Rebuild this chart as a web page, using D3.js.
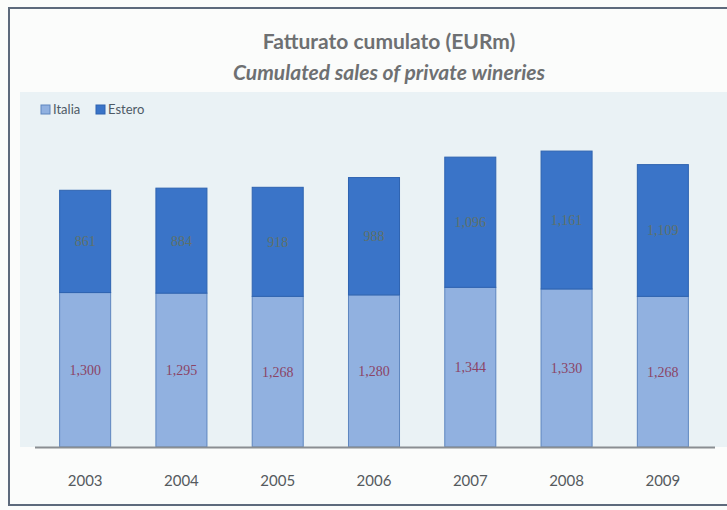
<!DOCTYPE html>
<html>
<head>
<meta charset="utf-8">
<script src="https://cdn.jsdelivr.net/npm/d3@7"></script>
<style>
  body { margin: 0; background: #fbfcfb; }
  svg { display: block; }
</style>
</head>
<body>
<svg id="chart" width="727" height="510"></svg>
<script>
var years = ["2003", "2004", "2005", "2006", "2007", "2008", "2009"];
var italia = [1300, 1295, 1268, 1280, 1344, 1330, 1268];
var estero = [861, 884, 918, 988, 1096, 1161, 1109];
var seriesNames = ["Italia", "Estero"];

var svg = d3.select("#chart");

// outer frame
svg.append("rect")
  .attr("x", 0).attr("y", 0).attr("width", 727).attr("height", 510)
  .attr("fill", "#fbfcfb");
svg.append("rect")
  .attr("x", 20).attr("y", 92).attr("width", 707).attr("height", 355)
  .attr("fill", "#eaf2f5");
svg.append("path")
  .attr("d", "M727,8 L9,8 L9,505 L727,505")
  .attr("fill", "none")
  .attr("stroke", "#5d6a7c")
  .attr("stroke-width", 2);

var x = d3.scaleBand()
  .domain(years)
  .range([37, 711])
  .paddingInner(0.47)
  .paddingOuter(0.235);

var y = d3.scaleLinear()
  .domain([0, 2500])
  .range([447, 150]);

var rows = years.map(function (yr, i) {
  return { year: yr, Italia: italia[i], Estero: estero[i] };
});
var stacked = d3.stack().keys(seriesNames)(rows);

var fills = { Italia: "#91b1e0", Estero: "#3a74c8" };
var strokes = { Italia: "#5e86bf", Estero: "#2e63b0" };
var labelColors = { Italia: "#8b4466", Estero: "#5f7168" };

var groups = svg.selectAll("g.series")
  .data(stacked).enter()
  .append("g")
  .attr("class", "series");

groups.selectAll("rect")
  .data(function (s) { return s.map(function (d) { d.key = s.key; return d; }); })
  .enter()
  .append("rect")
  .attr("x", function (d) { return x(d.data.year); })
  .attr("y", function (d) { return y(d[1]); })
  .attr("width", x.bandwidth())
  .attr("height", function (d) { return y(d[0]) - y(d[1]); })
  .attr("fill", function (d) { return fills[d.key]; })
  .attr("stroke", function (d) { return strokes[d.key]; })
  .attr("stroke-width", 1);

groups.selectAll("text")
  .data(function (s) { return s.map(function (d) { d.key = s.key; return d; }); })
  .enter()
  .append("text")
  .attr("x", function (d) { return x(d.data.year) + x.bandwidth() / 2; })
  .attr("y", function (d) { return (y(d[0]) + y(d[1])) / 2 + 5; })
  .attr("text-anchor", "middle")
  .attr("font-family", "Liberation Serif, serif")
  .attr("font-size", 14)
  .attr("fill", function (d) { return labelColors[d.key]; })
  .text(function (d) { return d3.format(",")(d[1] - d[0]); });

// x axis
var xAxis = svg.append("g")
  .attr("transform", "translate(0,447)")
  .call(d3.axisBottom(x).tickSize(0).tickPadding(28));
xAxis.select(".domain")
  .attr("d", "M35,0.5H715")
  .attr("stroke", "#8a8e92")
  .attr("stroke-width", 2);
xAxis.selectAll("text")
  .attr("font-family", "Lato, sans-serif")
  .attr("font-size", 15)
  .attr("fill", "#555a5e");

// titles
svg.append("text")
  .attr("x", 389).attr("y", 49)
  .attr("text-anchor", "middle")
  .attr("font-family", "Lato, sans-serif")
  .attr("font-weight", "bold")
  .attr("font-size", 21)
  .attr("fill", "#6e7072")
  .text("Fatturato cumulato (EURm)");
svg.append("text")
  .attr("x", 389).attr("y", 80)
  .attr("text-anchor", "middle")
  .attr("font-family", "Lato, sans-serif")
  .attr("font-weight", "bold")
  .attr("font-style", "italic")
  .attr("font-size", 21)
  .attr("fill", "#6e7072")
  .text("Cumulated sales of private wineries");

// legend
var legend = svg.selectAll("g.legend")
  .data(seriesNames).enter()
  .append("g")
  .attr("class", "legend")
  .attr("transform", function (d, i) { return "translate(" + (41 + i * 55) + ",105)"; });
legend.append("rect")
  .attr("width", 9).attr("height", 9)
  .attr("fill", function (d) { return fills[d]; })
  .attr("stroke", function (d) { return strokes[d]; });
legend.append("text")
  .attr("x", 12).attr("y", 9)
  .attr("font-family", "Lato, sans-serif")
  .attr("font-size", 13)
  .attr("fill", "#4e5a66")
  .text(function (d) { return d; });
</script>
</body>
</html>
